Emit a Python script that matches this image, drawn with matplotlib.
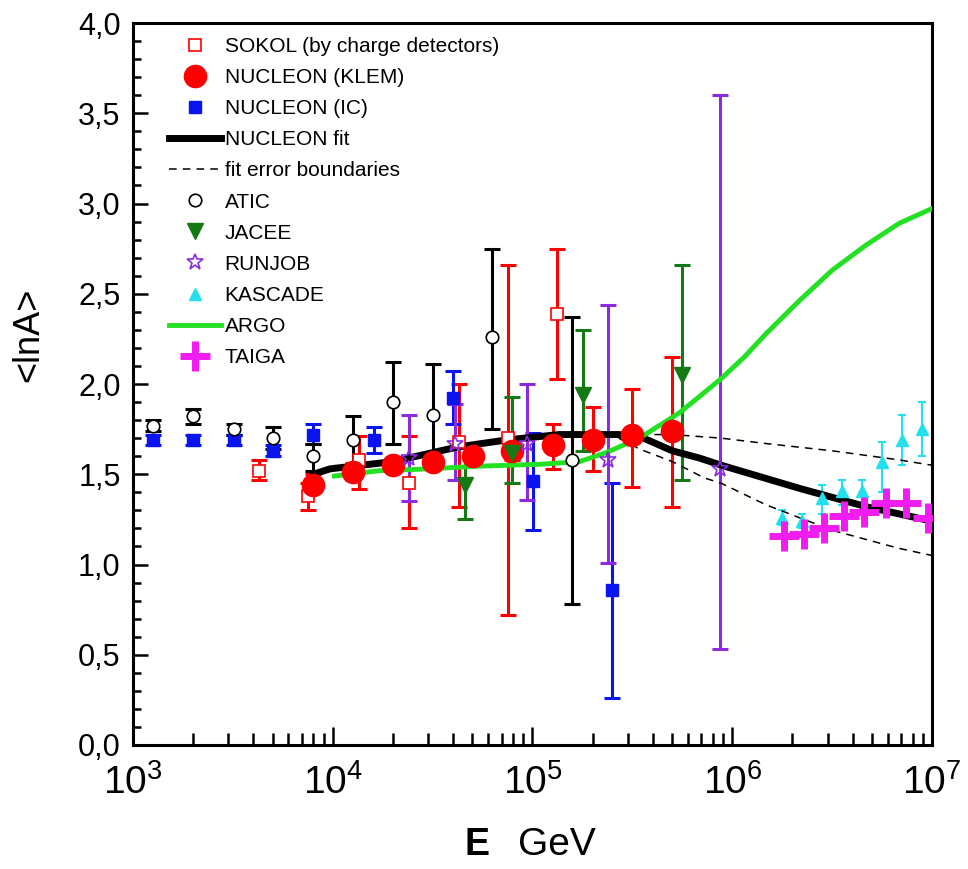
import numpy as np
import matplotlib
matplotlib.use('Agg')
import matplotlib.pyplot as plt
from matplotlib.ticker import FixedLocator, FuncFormatter, MultipleLocator

# шрифты
plt.rcParams['font.family'] = ['Liberation Sans', 'DejaVu Sans']
plt.rcParams['mathtext.fontset'] = 'custom'
plt.rcParams['mathtext.rm'] = 'Liberation Sans'

# SOKOL
sok_E = [4270, 7500, 13500, 24000, 42700, 75000, 133000]
sok_y = [1.52, 1.38, 1.58, 1.45, 1.68, 1.70, 2.39]
sok_lo = [1.47, 1.30, 1.42, 1.20, 1.32, 0.72, 2.03]
sok_hi = [1.58, 1.45, 1.71, 1.71, 2.00, 2.66, 2.75]

# NUCLEON KLEM
klem_E = [8000, 12600, 20000, 31600, 50100, 79400, 126000, 200000, 316000, 501000]
klem_y = [1.44, 1.51, 1.55, 1.57, 1.60, 1.63, 1.66, 1.69, 1.72, 1.74]
klem_lo = [1.40, 1.47, 1.52, 1.54, 1.56, 1.58, 1.53, 1.52, 1.43, 1.32]
klem_hi = [1.50, 1.56, 1.59, 1.61, 1.64, 1.68, 1.78, 1.87, 1.97, 2.15]

# NUCLEON IC
ic_E = [1260, 2000, 3200, 5000, 8000, 16000, 39800, 101000, 251000]
ic_y = [1.69, 1.69, 1.69, 1.63, 1.72, 1.69, 1.92, 1.46, 0.86]
ic_lo = [1.66, 1.66, 1.66, 1.60, 1.67, 1.62, 1.78, 1.19, 0.26]
ic_hi = [1.72, 1.72, 1.72, 1.66, 1.78, 1.76, 2.07, 1.73, 1.45]

# NUCLEON fit
fit_E = [8000, 9700, 20000, 41700, 74000, 136000, 270000, 343000, 501000,
         684000, 881000, 2.2e6, 4.7e6, 1e7]
fit_y = [1.50, 1.53, 1.57, 1.65, 1.69, 1.72, 1.72, 1.71, 1.63,
         1.59, 1.55, 1.42, 1.32, 1.24]

# границы ошибки фита
up_E = [216000, 501000, 881000, 1.48e6, 3.16e6, 6.8e6, 1e7]
up_y = [1.72, 1.72, 1.70, 1.67, 1.63, 1.58, 1.55]
low_E = [270000, 343000, 501000, 724000, 881000, 1.48e6, 3.16e6, 6.8e6, 1e7]
low_y = [1.70, 1.64, 1.57, 1.48, 1.45, 1.33, 1.19, 1.09, 1.05]

# ATIC
atic_E = [1260, 2000, 3200, 5000, 8000, 12600, 20000, 31600, 63000, 158000]
atic_y = [1.77, 1.82, 1.75, 1.70, 1.60, 1.69, 1.90, 1.83, 2.26, 1.58]
atic_lo = [1.74, 1.78, 1.72, 1.64, 1.52, 1.55, 1.67, 1.55, 1.75, 0.78]
atic_hi = [1.80, 1.86, 1.78, 1.76, 1.67, 1.82, 2.12, 2.11, 2.75, 2.37]

# JACEE
jac_E = [45700, 79000, 178000, 562000]
jac_y = [1.44, 1.62, 1.94, 2.05]
jac_lo = [1.25, 1.45, 1.63, 1.47]
jac_hi = [1.65, 1.93, 2.30, 2.66]

# RUNJOB
run_E = [24000, 40700, 94000, 240000, 870000]
run_y = [1.59, 1.67, 1.67, 1.58, 1.53]
run_lo = [1.35, 1.47, 1.36, 1.01, 0.53]
run_hi = [1.83, 1.89, 2.00, 2.44, 3.60]

# KASCADE
kas_E = [1.78e6, 2.24e6, 2.82e6, 3.55e6, 4.47e6, 5.62e6, 7.08e6, 8.9e6]
kas_y = [1.26, 1.24, 1.37, 1.41, 1.41, 1.57, 1.69, 1.75]
kas_lo = [1.22, 1.20, 1.28, 1.33, 1.33, 1.40, 1.55, 1.60]
kas_hi = [1.30, 1.28, 1.44, 1.47, 1.47, 1.68, 1.83, 1.90]

# ARGO
argo_E = [10200, 17200, 30500, 54300, 108000, 172000, 234000, 343000, 543000,
          684000, 881000, 1.15e6, 1.48e6, 2.16e6, 3.16e6, 4.68e6, 6.84e6, 9.9e6]
argo_y = [1.49, 1.52, 1.53, 1.545, 1.555, 1.57, 1.62, 1.70, 1.84,
          1.93, 2.03, 2.15, 2.28, 2.46, 2.63, 2.77, 2.89, 2.97]

# TAIGA
taiga_E = [1.82e6, 2.29e6, 2.88e6, 3.63e6, 4.57e6, 5.9e6, 7.4e6, 9.5e6]
taiga_y = [1.16, 1.17, 1.20, 1.27, 1.29, 1.34, 1.34, 1.26]

c_red = '#ff0000'
c_blue = '#0a14f0'
c_green = '#157a15'
c_purple = '#8a2be2'
c_cyan = '#22e0ee'
c_mag = '#f01cf0'
c_argo = '#22e022'

fig = plt.figure(figsize=(9.68, 8.69), dpi=100)
ax = fig.add_axes([0.1374, 0.1427, 0.8254, 0.8308])


def ebar(E, y, lo, hi, color, cap=6, lw=2.2):
    y = np.array(y)
    err = [y - np.array(lo), np.array(hi) - y]
    ax.errorbar(E, y, yerr=err, fmt='none', ecolor=color, elinewidth=lw,
                capsize=cap, capthick=lw, zorder=3)


ebar(sok_E, sok_y, sok_lo, sok_hi, c_red)
ebar(klem_E, klem_y, klem_lo, klem_hi, c_red)
ebar(ic_E, ic_y, ic_lo, ic_hi, c_blue)
ebar(atic_E, atic_y, atic_lo, atic_hi, 'black')
ebar(jac_E, jac_y, jac_lo, jac_hi, c_green)
ebar(run_E, run_y, run_lo, run_hi, c_purple)
ebar(kas_E, kas_y, kas_lo, kas_hi, c_cyan, cap=3, lw=1.5)

ax.plot(sok_E, sok_y, 's', ms=8, mfc='white', mec=c_red, mew=1.2,
        label='SOKOL (by charge detectors)', zorder=5)
ax.plot(klem_E, klem_y, 'o', ms=16, color=c_red, label='NUCLEON (KLEM)', zorder=5)
ax.plot(ic_E, ic_y, 's', ms=9, color=c_blue, label='NUCLEON (IC)', zorder=5)
ax.plot(fit_E, fit_y, '-', color='black', lw=5, label='NUCLEON fit', zorder=4)
ax.plot(up_E, up_y, '--', color='black', lw=1.1, dashes=(5, 4),
        label='fit error boundaries', zorder=4)
ax.plot(low_E, low_y, '--', color='black', lw=1.1, dashes=(5, 4), zorder=4)
ax.plot(atic_E, atic_y, 'o', ms=9, mfc='white', mec='black', mew=1.2,
        label='ATIC', zorder=5)
ax.plot(jac_E, jac_y, 'v', ms=12, color=c_green, label='JACEE', zorder=5)
ax.plot(run_E, run_y, '*', ms=12, mfc='none', mec=c_purple, mew=1.2,
        label='RUNJOB', zorder=5)
ax.plot(kas_E, kas_y, '^', ms=8, color=c_cyan, label='KASCADE', zorder=5)
ax.plot(argo_E, argo_y, '-', color=c_argo, lw=3.5, label='ARGO', zorder=4.5)
ax.plot(taiga_E, taiga_y, '+', ms=22, mew=5, color=c_mag, label='TAIGA', zorder=6)

ax.set_xscale('log')
ax.set_xlim(1e3, 1e7)
ax.set_ylim(0, 4)

ax.yaxis.set_major_locator(MultipleLocator(0.5))
ax.yaxis.set_minor_locator(MultipleLocator(0.1))
ax.yaxis.set_major_formatter(FuncFormatter(lambda v, p: ('%.1f' % v).replace('.', ',')))
ax.xaxis.set_major_locator(FixedLocator([1e3, 1e4, 1e5, 1e6, 1e7]))
ax.xaxis.set_major_formatter(FuncFormatter(
    lambda v, p: r'$\mathregular{10^{%d}}$' % round(np.log10(v))))
ax.xaxis.set_minor_locator(FixedLocator(
    [m * 10 ** k for k in range(3, 7) for m in range(2, 10)]))

ax.tick_params(axis='both', which='both', direction='in', width=1.8)
ax.tick_params(axis='y', which='major', length=11, pad=9, labelsize=22)
ax.tick_params(axis='y', which='minor', length=6)
ax.tick_params(axis='x', which='major', length=13, pad=14, labelsize=28)
ax.tick_params(axis='x', which='minor', length=9)
for s in ax.spines.values():
    s.set_linewidth(2.2)

fig.text(0.506, 0.007, 'E', fontsize=27, fontweight='bold', ha='right', va='bottom')
fig.text(0.535, 0.007, 'GeV', fontsize=28, ha='left', va='bottom')
fig.text(0.03, 0.615, '<lnA>', fontsize=26, rotation=90, ha='center', va='center')

ax.legend(loc='upper left', bbox_to_anchor=(0.035, 0.992), frameon=False,
          fontsize=15, handlelength=2.5, handletextpad=0.15, labelspacing=0.58,
          borderaxespad=0)

plt.savefig('out.png', dpi=100)
